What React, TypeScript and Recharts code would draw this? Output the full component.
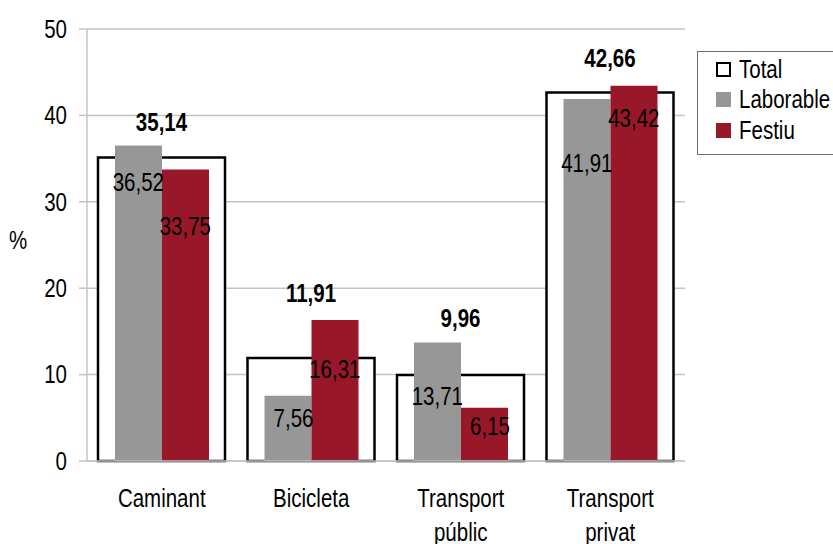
import { BarChart, Bar, XAxis, YAxis, CartesianGrid, Legend, LabelList } from 'recharts';

// modes of transport and shares (%)
const categories = ['Caminant', 'Bicicleta', 'Transport públic', 'Transport privat'];
const totalValues = [35.14, 11.91, 9.96, 42.66];
const laborableValues = [36.52, 7.56, 13.71, 41.91];
const festiuValues = [33.75, 16.31, 6.15, 43.42];
const yTicks = [0, 10, 20, 30, 40, 50];
const seriesOrder = ['total', 'laborable', 'festiu'];

// label placement, as in the original sheet (px from bar top)
const totalLabelLift = [35, 65, 57, 34];
const laborableLabelDrop = [37, 23, 54, 64];
const festiuLabelDrop = [57, 49, 18, 32];

// no narrow font available, so Liberation Sans is squeezed horizontally
const FONT = "'Liberation Sans', Arial, sans-serif";
const SQUEEZE = 0.82;
const FS = 25;
const GRAY = '#979797';
const RED = '#981829';
const GRID = '#c4c4c4';

const data = categories.map((name, i) => ({
    name,
    total: totalValues[i],
    laborable: laborableValues[i],
    festiu: festiuValues[i],
}));

const fmt = (v: number) => v.toFixed(2).replace('.', ',');

const NarrowText = ({ x, y, anchor = 'middle', bold = false, children }: any) => (
    <text transform={`translate(${x},${y}) scale(${SQUEEZE},1)`} textAnchor={anchor} dominantBaseline="central"
        fontFamily={FONT} fontSize={FS} fontWeight={bold ? 'bold' : 'normal'} fill="#000">
        {children}
    </text>
);

const TotalLabel = (props: any) => {
    const { x, y, width, value, index } = props;
    return <NarrowText x={x + width / 2} y={y - totalLabelLift[index]} bold>{fmt(value)}</NarrowText>;
};

const makeInnerLabel = (drops: number[]) => (props: any) => {
    const { x, y, width, value, index } = props;
    return <NarrowText x={x + width + 2} y={y + drops[index]} anchor="end">{fmt(value)}</NarrowText>;
};

const CategoryTick = (props: any) => {
    const { x, y, payload } = props;
    const words = String(payload.value).split(' ');
    return (
        <g>
            {words.map((w, i) => (
                <NarrowText key={i} x={x} y={y + 37 + i * 34}>{w}</NarrowText>
            ))}
        </g>
    );
};

const ValueTick = (props: any) => {
    const { x, y, payload } = props;
    return <NarrowText x={x} y={y} anchor="end">{payload.value}</NarrowText>;
};

const PercentLabel = (props: any) => {
    const { viewBox } = props;
    return <NarrowText x={18} y={viewBox.y + viewBox.height / 2 - 5}>%</NarrowText>;
};

const LegendBox = ({ payload }: any) => {
    const items = [...(payload || [])].sort(
        (a: any, b: any) => seriesOrder.indexOf(a.dataKey) - seriesOrder.indexOf(b.dataKey));
    return (
        <div style={{
            border: '1px solid #6e6e6e', width: 150, height: 100, boxSizing: 'content-box',
            padding: '2px 0 0 18px', background: '#fff', fontFamily: FONT, fontSize: FS,
        }}>
            {items.map((entry: any) => (
                <div key={entry.value} style={{ display: 'flex', alignItems: 'center', height: 30.5 }}>
                    <span style={{
                        display: 'inline-block', width: 15, height: 15, boxSizing: 'border-box', flex: 'none',
                        background: entry.dataKey === 'total' ? '#fff' : entry.color,
                        border: entry.dataKey === 'total' ? '2px solid #000' : 'none',
                        marginRight: 8,
                    }} />
                    <span style={{ color: '#000', display: 'inline-block', whiteSpace: 'nowrap',
                        transform: `scaleX(${SQUEEZE})`, transformOrigin: 'left center' }}>{entry.value}</span>
                </div>
            ))}
        </div>
    );
};

export default function App() {
    return (
        <div style={{ position: 'fixed', left: 0, top: 0, width: 833, height: 544, overflow: 'hidden', background: '#fff' }}>
            <BarChart width={833} height={544} data={data} margin={{ top: 29, right: 148, bottom: 0, left: 0 }} barGap={0}>
                <CartesianGrid vertical={false} stroke={GRID} strokeWidth={1.5} />
                <XAxis xAxisId="total" dataKey="name" hide />
                <XAxis xAxisId="main" dataKey="name" tickLine={false} tickSize={0} tickMargin={0}
                    axisLine={{ stroke: GRID, strokeWidth: 1.5 }} tick={<CategoryTick />} interval={0} height={83} />
                <YAxis domain={[0, 50]} ticks={yTicks} width={87} tickSize={8} tickMargin={12}
                    axisLine={{ stroke: GRID, strokeWidth: 1.5 }} tickLine={{ stroke: GRID, strokeWidth: 1.5 }}
                    tick={<ValueTick />} label={{ value: '%', content: <PercentLabel /> }} />
                <YAxis yAxisId="frame" orientation="right" domain={[0, 50]} width={0} tick={false} tickLine={false}
                    axisLine={{ stroke: GRID, strokeWidth: 1.5 }} />
                <Legend content={<LegendBox />} layout="vertical" align="center" verticalAlign="middle"
                    wrapperStyle={{ position: 'absolute', left: 697, top: 51, width: 170 }} />
                <Bar xAxisId="total" dataKey="total" name="Total" barSize={127} fill="#fff" stroke="#000" strokeWidth={2.5}
                    isAnimationActive={false}>
                    <LabelList dataKey="total" content={<TotalLabel />} />
                </Bar>
                <Bar xAxisId="main" dataKey="laborable" name="Laborable" barSize={47} fill={GRAY} isAnimationActive={false}>
                    <LabelList dataKey="laborable" content={makeInnerLabel(laborableLabelDrop)} />
                </Bar>
                <Bar xAxisId="main" dataKey="festiu" name="Festiu" barSize={47} fill={RED} isAnimationActive={false}>
                    <LabelList dataKey="festiu" content={makeInnerLabel(festiuLabelDrop)} />
                </Bar>
            </BarChart>
        </div>
    );
}
